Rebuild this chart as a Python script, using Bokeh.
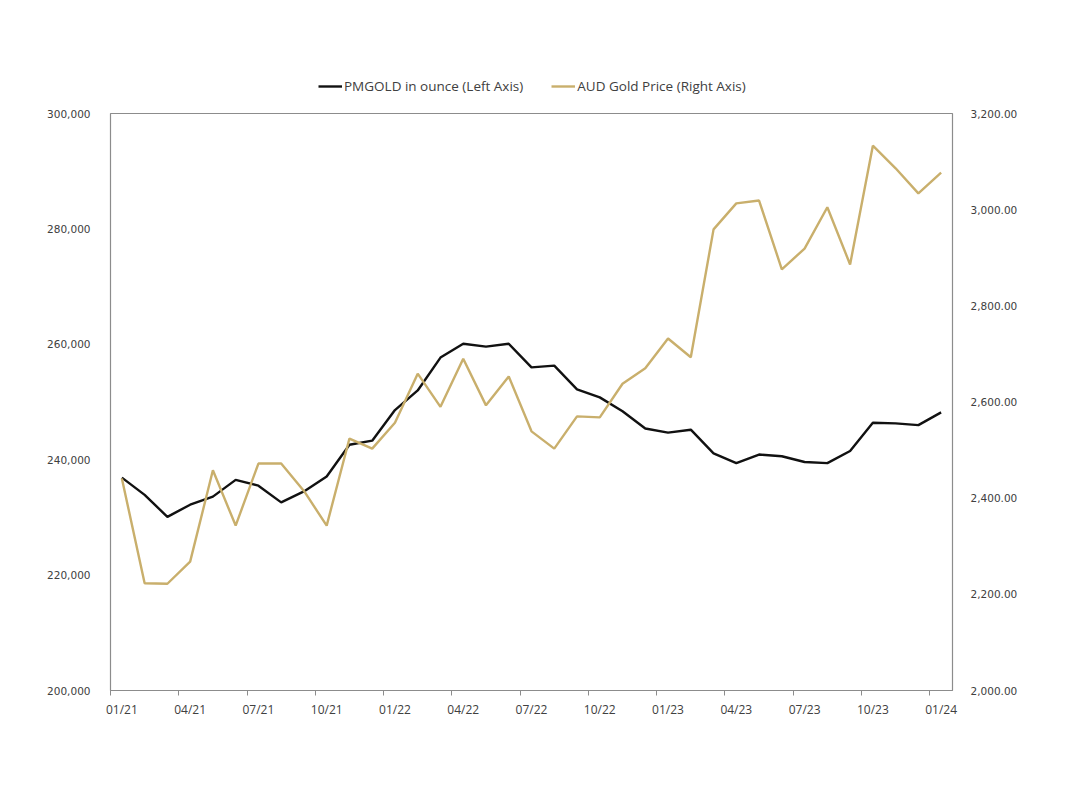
from bokeh.plotting import figure
from bokeh.layouts import column
from bokeh.models import (Range1d, LinearAxis, FixedTicker, NumeralTickFormatter,
                          Legend, LegendItem, ColumnDataSource, SingleIntervalTicker)
from bokeh.embed import file_html
from bokeh.resources import INLINE

months = ["01/21", "02/21", "03/21", "04/21", "05/21", "06/21", "07/21", "08/21", "09/21",
          "10/21", "11/21", "12/21", "01/22", "02/22", "03/22", "04/22", "05/22", "06/22",
          "07/22", "08/22", "09/22", "10/22", "11/22", "12/22", "01/23", "02/23", "03/23",
          "04/23", "05/23", "06/23", "07/23", "08/23", "09/23", "10/23", "11/23", "12/23",
          "01/24"]
pmgold_oz = [236900, 233900, 230100, 232200, 233600, 236500, 235500, 232600, 234500,
             237100, 242600, 243300, 248600, 252000, 257700, 260100, 259600, 260100,
             256000, 256300, 252200, 250800, 248400, 245400, 244700, 245200, 241100,
             239400, 240900, 240600, 239600, 239400, 241500, 246400, 246300, 246000,
             248200]
aud_gold = [2441, 2223, 2222, 2268, 2458, 2343, 2472, 2472, 2415, 2343, 2524, 2503,
            2557, 2659, 2590, 2690, 2593, 2653, 2539, 2503, 2570, 2568, 2638, 2670,
            2732, 2693, 2959, 3013, 3019, 2876, 2919, 3005, 2886, 3133, 3086, 3034,
            3077]
tick_labels = ["01/21", "04/21", "07/21", "10/21", "01/22", "04/22", "07/22", "10/22",
               "01/23", "04/23", "07/23", "10/23", "01/24"]
series_names = ["PMGOLD in ounce (Left Axis)", "AUD Gold Price (Right Axis)"]

GOLD = "#C9AF6C"
BLACK = "#111111"
TXT = "#404040"
GRID = "#8C8C8C"

xs = list(range(len(months)))
src = ColumnDataSource(dict(x=xs, pm=pmgold_oz, aud=aud_gold))

p = figure(frame_width=842, frame_height=577, output_backend="svg", toolbar_location=None,
           x_range=Range1d(-0.5, len(months) - 0.5),
           y_range=Range1d(200000, 300000),
           min_border_left=110, min_border_right=110, min_border_top=10,
           min_border_bottom=100)
p.extra_y_ranges = {"aud": Range1d(2000, 3200)}
p.grid.visible = False
p.outline_line_color = GRID
p.outline_line_width = 1.2
p.background_fill_color = "white"
p.border_fill_color = "white"

label_pos = [months.index(t) for t in tick_labels]
p.xaxis.ticker = FixedTicker(ticks=label_pos, minor_ticks=[i - 0.5 for i in label_pos])
p.xaxis.major_label_overrides = {tp: t for tp, t in zip(label_pos, tick_labels)}
p.xaxis.axis_line_color = GRID
p.xaxis.major_tick_line_color = None
p.xaxis.major_tick_out = 5
p.xaxis.major_tick_in = 0
p.xaxis.minor_tick_line_color = GRID
p.xaxis.minor_tick_out = 5
p.xaxis.minor_tick_in = 0
p.xaxis.major_label_text_font = "Open Sans"
p.xaxis.major_label_text_font_size = "12px"
p.xaxis.major_label_text_color = TXT
p.xaxis.major_label_standoff = 5

p.yaxis.ticker = SingleIntervalTicker(interval=20000)
p.yaxis.formatter = NumeralTickFormatter(format="0,0")
p.yaxis.axis_line_color = None
p.yaxis.major_tick_line_color = None
p.yaxis.minor_tick_line_color = None
p.yaxis.major_label_text_font = "DejaVu Sans"
p.yaxis.major_label_text_font_size = "10.5px"
p.yaxis.major_label_text_color = TXT
p.yaxis.major_label_standoff = 14

raxis = LinearAxis(y_range_name="aud", ticker=SingleIntervalTicker(interval=200),
                   formatter=NumeralTickFormatter(format="0,0.00"))
raxis.axis_line_color = None
raxis.major_tick_line_color = None
raxis.minor_tick_line_color = None
raxis.major_label_text_font = "DejaVu Sans"
raxis.major_label_text_font_size = "10.5px"
raxis.major_label_text_color = TXT
raxis.major_label_standoff = 12
p.add_layout(raxis, "right")

p.line("x", "pm", source=src, line_color=BLACK, line_width=2.4)
p.line("x", "aud", source=src, line_color=GOLD, line_width=2.4, y_range_name="aud")

# legend strip above the chart (dummy renderers lie outside its visible range)
lg = figure(frame_width=842, frame_height=40, output_backend="svg", toolbar_location=None,
            x_range=Range1d(0, 1), y_range=Range1d(0, 1),
            min_border_left=110, min_border_right=110, min_border_top=63,
            min_border_bottom=0)
lg.axis.visible = False
lg.grid.visible = False
lg.outline_line_color = None
lg.border_fill_color = "white"
e1 = lg.line(x=[-5, -4], y=[-5, -4], line_color=BLACK, line_width=2.4)
e2 = lg.line(x=[-5, -4], y=[-5, -4], line_color=GOLD, line_width=2.4)
legend = Legend(items=[LegendItem(label=series_names[0], renderers=[e1]),
                       LegendItem(label=series_names[1], renderers=[e2])],
                orientation="horizontal", location=(208, 7))
legend.label_text_font = "Open Sans"
legend.label_text_font_size = "13.5px"
legend.label_text_color = TXT
legend.border_line_color = None
legend.background_fill_alpha = 0
legend.glyph_width = 24
legend.glyph_height = 20
legend.label_standoff = 2
legend.spacing = 28
legend.padding = 0
legend.margin = 0
lg.add_layout(legend, "center")

layout = column(lg, p, spacing=0)
open("out.html", "w").write(file_html(layout, INLINE))
